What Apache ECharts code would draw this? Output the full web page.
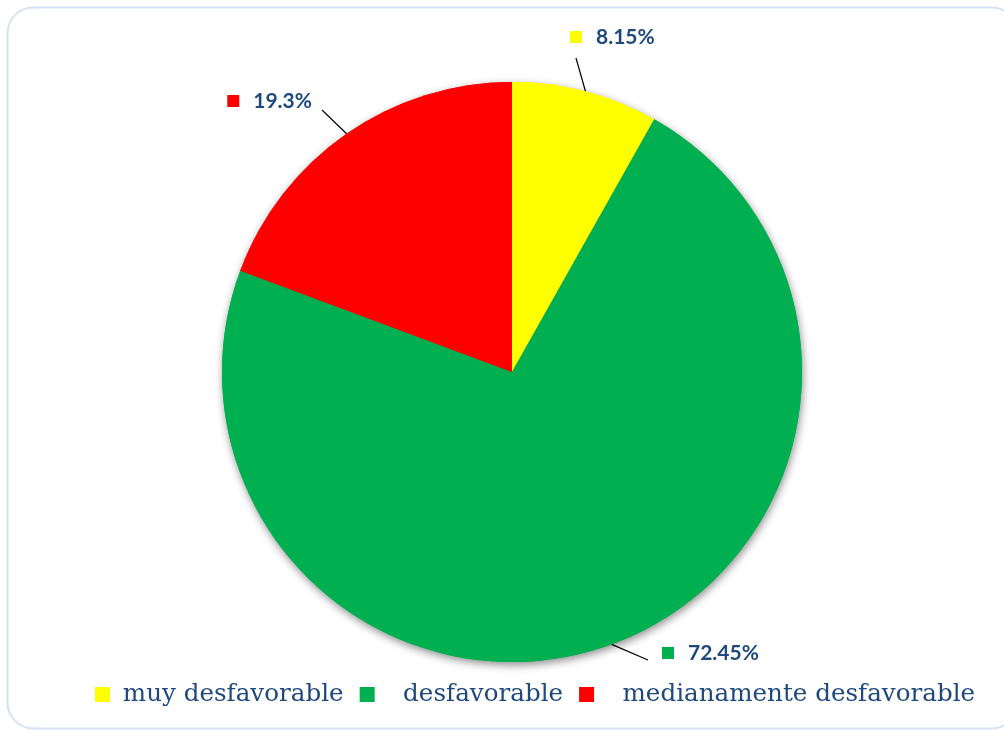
<!DOCTYPE html>
<html>
<head>
<meta charset="utf-8">
<title>Distribución de respuestas</title>
<script src="https://cdn.jsdelivr.net/npm/echarts@6/dist/echarts.min.js"></script>
<style>
  html, body { margin: 0; padding: 0; background: #ffffff; }
  #chart { width: 1004px; height: 731px; }
</style>
</head>
<body>
<div id="chart"></div>
<script>
// Categories and their shares (percent)
const categories = ['muy desfavorable', 'desfavorable', 'medianamente desfavorable'];
const shares = [8.15, 72.45, 19.3];
const sliceColors = ['#FFFF00', '#00B050', '#FF0000'];

const textBlue = '#1F497D';

// Where each percentage label sits, and where its leader line ends
const labelSpots = [
  { x: 570, y: 37,  align: 'left',  end: [576, 58] },
  { x: 662, y: 653, align: 'left',  end: [648, 660] },
  { x: 312, y: 101, align: 'right', end: [322, 110] }
];

const pieData = categories.map((name, i) => ({
  name: name,
  value: shares[i],
  itemStyle: { color: sliceColors[i] }
}));

// One colour swatch per category inside the rich label
const rich = {
  v: {
    fontFamily: 'Lato, "Open Sans", sans-serif',
    fontWeight: 'bold',
    fontSize: 21,
    color: textBlue,
    padding: [0, 0, 0, 14]
  }
};
sliceColors.forEach((c, i) => {
  rich['sq' + i] = { width: 12, height: 12, backgroundColor: c };
});

const chart = echarts.init(document.getElementById('chart'), null, { renderer: 'canvas' });

const pieCenter = [512, 372];
const pieRadius = 290;

chart.setOption({
  animation: false,
  backgroundColor: '#ffffff',
  graphic: [{
    type: 'rect',
    silent: true,
    shape: { x: 7.5, y: 7.5, width: 1010, height: 721, r: 26 },
    style: { fill: 'none', stroke: '#D5E2F3', lineWidth: 2 }
  }],
  legend: {
    data: categories,
    left: 95,
    top: 682,
    padding: 0,
    itemWidth: 15,
    itemHeight: 15,
    itemGap: 16,
    icon: 'rect',
    selectedMode: false,
    formatter: name => (categories.indexOf(name) === 0 ? ' ' : '   ') + name,
    textStyle: {
      fontFamily: '"DejaVu Serif", "Liberation Serif", serif',
      fontSize: 24.6,
      color: textBlue
    }
  },
  series: [
    {
      // soft drop shadow under the whole disc
      type: 'pie',
      silent: true,
      center: pieCenter,
      radius: pieRadius,
      startAngle: 90,
      clockwise: true,
      data: pieData,
      label: { show: false },
      labelLine: { show: false },
      itemStyle: {
        shadowBlur: 8,
        shadowOffsetX: 1,
        shadowOffsetY: 3,
        shadowColor: 'rgba(0,0,0,0.45)'
      }
    },
    {
      type: 'pie',
      center: pieCenter,
      radius: pieRadius,
      startAngle: 90,
      clockwise: true,
      data: pieData,
      itemStyle: { borderWidth: 0 },
      label: {
        show: true,
        position: 'outside',
        formatter: p => '{sq' + p.dataIndex + '|}{v|' + p.value + '%}',
        rich: rich
      },
      labelLine: {
        show: true,
        length: 22,
        length2: 0,
        lineStyle: { color: '#000000', width: 1.2 }
      },
      labelLayout: function (params) {
        const spot = labelSpots[params.dataIndex];
        const start = params.labelLinePoints ? params.labelLinePoints[0] : spot.end;
        return {
          x: spot.x,
          y: spot.y,
          align: spot.align,
          verticalAlign: 'middle',
          labelLinePoints: [start, spot.end]
        };
      }
    }
  ]
});
</script>
</body>
</html>
